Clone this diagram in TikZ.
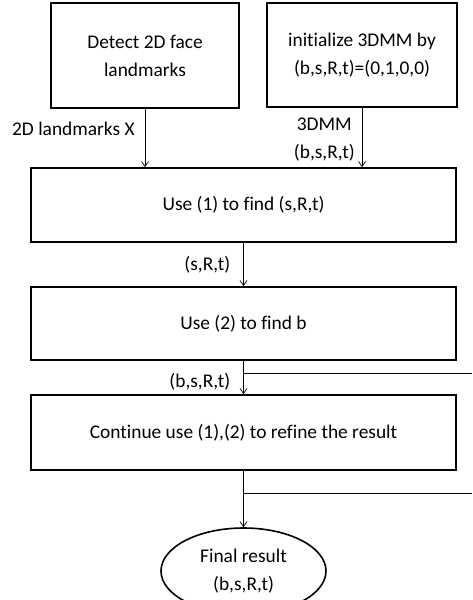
\documentclass[tikz,border=0pt]{standalone}
\usepackage{fontspec}
\setmainfont[Ligatures=NoCommon]{Carlito}
\usetikzlibrary{shapes.geometric,positioning,arrows.meta}

\tikzset{
  stepbox/.style={draw,line width=1.8pt,rectangle,align=center,inner sep=0pt},
  flow/.style={draw,line width=0.7pt,-{Straight Barb[length=5pt,width=7pt]}},
  plain/.style={draw,line width=0.7pt},
  lbl/.style={align=center,inner sep=0pt}
}

\begin{document}
\begin{tikzpicture}[x=1pt,y=-1pt,font=\fontsize{19.4}{28}\selectfont]
\useasboundingbox (0,0) rectangle (472,600);
\clip (0,0) rectangle (472,600);

% top boxes
\node[stepbox,minimum width=188pt,minimum height=105pt] (detect) at (145,55.5) {Detect 2D face\\landmarks};
\node[stepbox,minimum width=190pt,minimum height=104pt] (init) at (362,55) {initialize 3DMM by\\(b,s,R,t)=(0,1,0,0)};

% main chain
\node[stepbox,minimum width=425pt,minimum height=74pt] (findsrt) at (243.5,205) {Use (1) to find (s,R,t)};
\node[stepbox,minimum width=425pt,minimum height=73pt] (findb) at (243.5,323.5) {Use (2) to find b};
\node[stepbox,minimum width=425pt,minimum height=75pt] (refine) at (243.5,432.5) {Continue use (1),(2) to refine the result};
\node[ellipse,draw,line width=1.6pt,minimum width=165pt,minimum height=86pt,inner sep=0pt,align=center] (final) at (243.5,571) {Final result\\(b,s,R,t)};

% connectors
\draw[flow] (detect.south) -- (detect.south |- findsrt.north)
  node[lbl,midway,left=10pt,yshift=9pt] {2D landmarks X};
\draw[flow] (init.south) -- (init.south |- findsrt.north)
  node[lbl,midway,left=7pt,yshift=-2pt] {3DMM\\(b,s,R,t)};
\draw[flow] (findsrt.south) -- (findb.north) node[lbl,midway,left=13pt] {(s,R,t)};
\draw[flow] (findb.south) -- (refine.north) node[lbl,midway,left=13pt,yshift=-4pt] {(b,s,R,t)};
\draw[flow] (refine.south) -- (final.north);

% feedback lines
\coordinate (loopa) at (472,373);
\coordinate (loopb) at (472,493);
\draw[plain] (loopa -| findb.south) -- (loopa);
\draw[plain] (loopb -| refine.south) -- (loopb);

\end{tikzpicture}
\end{document}
